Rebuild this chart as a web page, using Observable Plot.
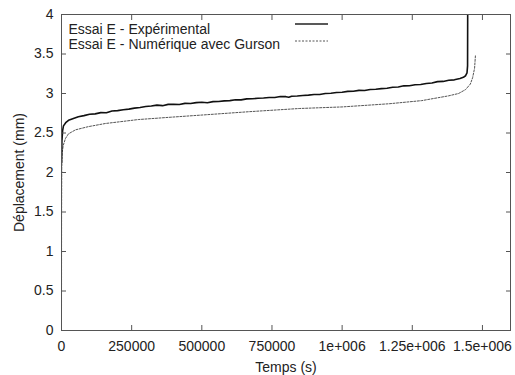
<!DOCTYPE html>
<html>
<head>
<meta charset="utf-8">
<script src="https://cdn.jsdelivr.net/npm/d3@7"></script>
<script src="https://cdn.jsdelivr.net/npm/@observablehq/plot@0.6"></script>
<style>
  html, body { margin: 0; padding: 0; background: #fff; }
  #chart svg { display: block; }
</style>
</head>
<body>
<div id="chart"></div>
<script>
// Temps (s) and Déplacement (mm), experimental test E
const expTime = [0, 1500, 4000, 7000, 15000, 25000, 40000, 60000, 80000, 100000,
  120000, 140000, 160000, 180000, 200000, 220000, 240000, 260000, 280000, 300000,
  320000, 340000, 360000, 380000, 400000, 420000, 440000, 460000, 480000, 500000,
  520000, 540000, 560000, 580000, 600000, 620000, 640000, 660000, 680000, 700000,
  720000, 740000, 760000, 780000, 800000, 810000, 820000, 840000, 860000, 880000,
  900000, 920000, 940000, 960000, 980000, 1000000, 1020000, 1040000, 1060000, 1080000,
  1100000, 1120000, 1140000, 1160000, 1180000, 1200000, 1220000, 1240000, 1260000, 1280000,
  1300000, 1320000, 1340000, 1360000, 1380000, 1400000, 1420000, 1432000, 1440000, 1445000,
  1447000, 1447500];
const expDisp = [2.12, 2.40, 2.53, 2.59, 2.63, 2.66, 2.68, 2.705, 2.72, 2.738,
  2.742, 2.758, 2.757, 2.778, 2.783, 2.795, 2.802, 2.815, 2.822, 2.835,
  2.842, 2.853, 2.846, 2.862, 2.864, 2.86, 2.875, 2.873, 2.884, 2.89,
  2.883, 2.897, 2.898, 2.907, 2.91, 2.92, 2.919, 2.932, 2.933, 2.94,
  2.943, 2.95, 2.95, 2.962, 2.96, 2.953, 2.966, 2.968, 2.975, 2.98,
  2.987, 2.988, 3.0, 3.003, 3.012, 3.016, 3.027, 3.028, 3.04, 3.038,
  3.05, 3.053, 3.062, 3.066, 3.08, 3.083, 3.097, 3.098, 3.11, 3.113,
  3.127, 3.133, 3.15, 3.153, 3.167, 3.173, 3.19, 3.205, 3.225, 3.26,
  3.35, 4.1];

// Numerical simulation with Gurson model
const numTime = [0, 300, 1000, 2500, 6000, 14000, 25000, 50000, 95000, 156000,
  273000, 390000, 511000, 670000, 847000, 1000000, 1167000, 1284000, 1379000,
  1415000, 1440000, 1457000, 1465000, 1472000, 1475000];
const numDisp = [0, 1.5, 2.05, 2.25, 2.34, 2.43, 2.49, 2.54, 2.58, 2.62,
  2.67, 2.70, 2.73, 2.77, 2.81, 2.83, 2.87, 2.91, 2.97,
  3.00, 3.05, 3.12, 3.20, 3.32, 3.48];

const seriesNames = ["Essai E - Expérimental", "Essai E - Numérique avec Gurson"];

const xTicks = [0, 250000, 500000, 750000, 1000000, 1250000, 1500000];
const xTickLabels = ["0", "250000", "500000", "750000", "1e+006", "1.25e+006", "1.5e+006"];
const yTicks = [0, 0.5, 1, 1.5, 2, 2.5, 3, 3.5, 4];
const yTickLabels = ["0", "0.5", "1", "1.5", "2", "2.5", "3", "3.5", "4"];

const expData = expTime.map((t, i) => ({t, d: expDisp[i]}));
const numData = numTime.map((t, i) => ({t, d: numDisp[i]}));

const legendSamples = (index, scales, values, dim) => {
  const g = d3.create("svg:g");
  const x1 = 295, x2 = 328;
  g.append("line").attr("x1", x1).attr("x2", x2).attr("y1", 24).attr("y2", 24)
    .attr("stroke", "#222").attr("stroke-width", 1.6);
  g.append("line").attr("x1", x1).attr("x2", x2).attr("y1", 41).attr("y2", 41)
    .attr("stroke", "#555").attr("stroke-width", 1).attr("stroke-dasharray", "2,1.5");
  return g.node();
};

const chart = Plot.plot({
  width: 515,
  height: 375,
  marginLeft: 61,
  marginRight: 5,
  marginTop: 14,
  marginBottom: 45,
  style: {fontFamily: "'Liberation Sans', Arial, sans-serif", fontSize: "14px", background: "#fff", color: "#222"},
  x: {domain: [0, 1600000]},
  y: {domain: [0, 4]},
  marks: [
    Plot.line(numData, {x: "t", y: "d", stroke: "#555", strokeWidth: 1, strokeDasharray: "2,1.5", clip: true}),
    Plot.line(expData, {x: "t", y: "d", stroke: "#111", strokeWidth: 1.6, clip: true}),
    Plot.frame({stroke: "#555", strokeWidth: 1}),
    // inward ticks on all four sides
    Plot.axisX({ticks: xTicks, anchor: "bottom", tickSize: -5, tickFormat: () => "", label: null, stroke: "#555"}),
    Plot.axisX({ticks: xTicks, anchor: "top", tickSize: -5, tickFormat: () => "", label: null, stroke: "#555"}),
    Plot.axisY({ticks: yTicks, anchor: "left", tickSize: -5, tickFormat: () => "", label: null, stroke: "#555"}),
    Plot.axisY({ticks: yTicks, anchor: "right", tickSize: -5, tickFormat: () => "", label: null, stroke: "#555"}),
    // tick labels
    Plot.axisX({ticks: xTicks, anchor: "bottom", tickSize: 0, tickPadding: 11,
      tickFormat: (d) => xTickLabels[xTicks.indexOf(d)],
      label: "Temps (s)", labelAnchor: "center", labelArrow: "none", labelOffset: 41}),
    Plot.axisY({ticks: yTicks, anchor: "left", tickSize: 0, tickPadding: 8,
      tickFormat: (d) => yTickLabels[yTicks.indexOf(d)],
      label: "Déplacement (mm)", labelAnchor: "center", labelArrow: "none", labelOffset: 47}),
    // legend
    Plot.text([seriesNames[0]], {text: d => d, frameAnchor: "top-left", textAnchor: "start", dx: 7, dy: 10, fill: "#222"}),
    Plot.text([seriesNames[1]], {text: d => d, frameAnchor: "top-left", textAnchor: "start", dx: 7, dy: 25, fill: "#222"}),
    legendSamples
  ]
});
document.getElementById("chart").appendChild(chart);
</script>
</body>
</html>
